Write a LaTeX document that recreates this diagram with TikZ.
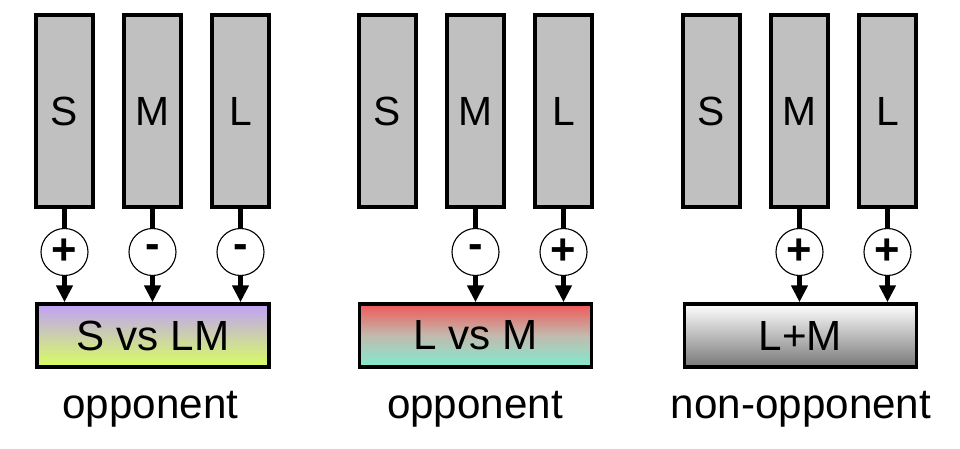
\documentclass[tikz,border=0pt]{standalone}
\usepackage{fontspec}
\setmainfont{Liberation Sans}
\usepackage{tikz}
\usetikzlibrary{arrows.meta,positioning,calc}

\definecolor{conegray}{RGB}{192,192,192}
\definecolor{lavender}{RGB}{192,160,248}
\definecolor{limegreen}{RGB}{216,255,96}
\definecolor{coral}{RGB}{240,88,88}
\definecolor{aqua}{RGB}{128,236,208}
\definecolor{darkgray}{RGB}{120,120,120}

\tikzset{
  cone/.style={draw,line width=2.4pt,fill=conegray,inner sep=0pt,
    minimum width=1.425cm,minimum height=4.8cm,font=\fontsize{29}{30}\selectfont},
  gate/.style={draw,circle,line width=0.8pt,fill=white,inner sep=0pt,
    minimum size=1.175cm,font=\bfseries\fontsize{31}{32}\selectfont},
  cell/.style={draw,line width=2.6pt,inner sep=0pt,
    minimum width=5.8cm,minimum height=1.575cm,font=\fontsize{30}{32}\selectfont},
  caption/.style={anchor=base,inner sep=0pt,font=\fontsize{30}{32}\selectfont},
  wire/.style={line width=3.4pt},
  feed/.style={line width=3.4pt,-{Triangle[length=0.42cm,width=0.4cm]}}
}

\begin{document}
\begin{tikzpicture}[x=0.025cm,y=-0.025cm]
\useasboundingbox (0,0) rectangle (960,448);

% S vs LM
\node[cone] (S1) at (64.5,111) {S};
\node[cone] (M1) at (152.5,111) {M};
\node[cone] (L1) at (240.5,111) {L};
\node[gate] (gS1) at (64.5,252) {+};
\node[gate] (gM1) at (152.5,252) {-};
\node[gate] (gL1) at (240.5,252) {-};
\node[cell,top color=lavender,bottom color=limegreen] (out1) at (153,335.5) {S vs LM};
\node[caption] (cap1) at (150.5,418) {opponent};
\draw[wire] (S1) -- (gS1);
\draw[wire] (M1) -- (gM1);
\draw[wire] (L1) -- (gL1);
\draw[feed] (gS1) -- (gS1 |- out1.north);
\draw[feed] (gM1) -- (gM1 |- out1.north);
\draw[feed] (gL1) -- (gL1 |- out1.north);

% L vs M
\node[cone] (S2) at (387.5,111) {S};
\node[cone] (M2) at (475.5,111) {M};
\node[cone] (L2) at (563.5,111) {L};
\node[gate] (gM2) at (475.5,252) {-};
\node[gate] (gL2) at (563.5,252) {+};
\node[cell,top color=coral,bottom color=aqua,middle color=aqua!55!coral!80!white] (out2) at (475.5,335.5) {L vs M};
\node[caption] (cap2) at (475,418) {opponent};
\draw[wire] (M2) -- (gM2);
\draw[wire] (L2) -- (gL2);
\draw[feed] (gM2) -- (gM2 |- out2.north);
\draw[feed] (gL2) -- (gL2 |- out2.north);

% L+M
\node[cone] (S3) at (711.5,111) {S};
\node[cone] (M3) at (799.5,111) {M};
\node[cone] (L3) at (887.5,111) {L};
\node[gate] (gM3) at (799.5,252) {+};
\node[gate] (gL3) at (887.5,252) {+};
\node[cell,top color=white,bottom color=darkgray] (out3) at (800.5,335.5) {L+M};
\node[caption] (cap3) at (801,418) {non-opponent};
\draw[wire] (M3) -- (gM3);
\draw[wire] (L3) -- (gL3);
\draw[feed] (gM3) -- (gM3 |- out3.north);
\draw[feed] (gL3) -- (gL3 |- out3.north);
\end{tikzpicture}
\end{document}
